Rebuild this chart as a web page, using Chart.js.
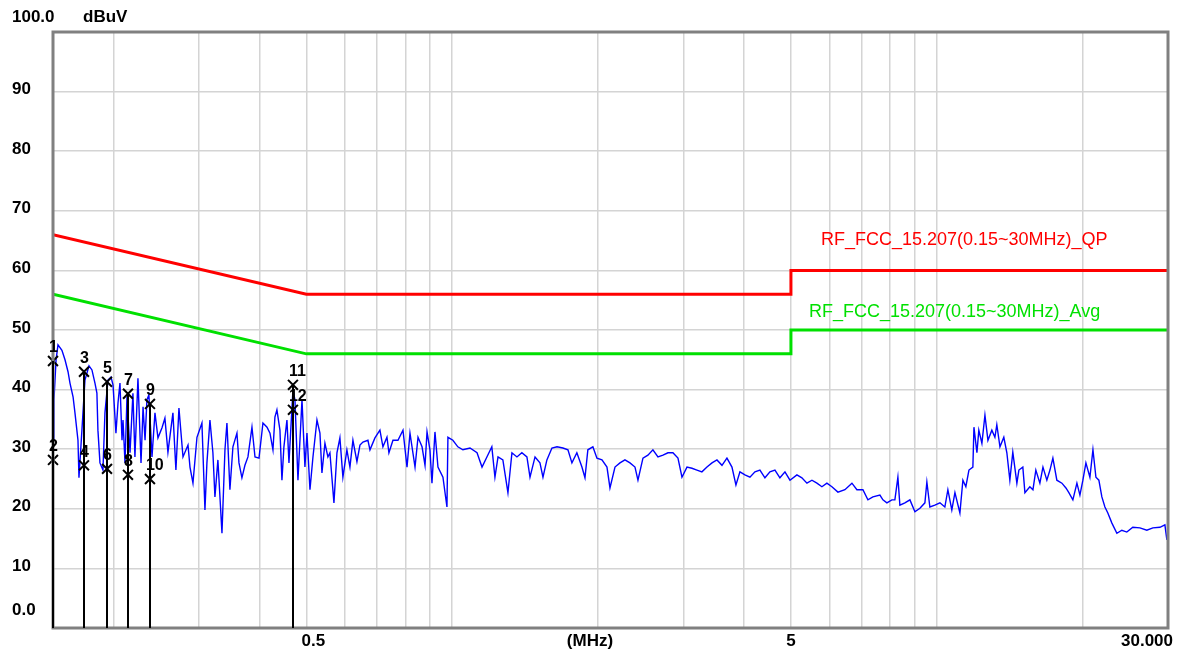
<!DOCTYPE html>
<html>
<head>
<meta charset="utf-8">
<script src="https://cdn.jsdelivr.net/npm/chart.js@4.4.0/dist/chart.umd.min.js"></script>
<style>
    html, body { margin: 0; padding: 0; background: #fff; }
    #wrap { width: 1181px; height: 652px; }
</style>
</head>
<body>
<div id="wrap"><canvas id="emiChart" width="1181" height="652"></canvas></div>
<script>
// measured trace (MHz / dBuV)
const traceFreq = [
    0.150, 0.1507, 0.1522, 0.1536, 0.1565, 0.1588, 0.1611, 0.1626, 0.1650, 0.1665,
    0.1689, 0.1697, 0.1721, 0.1746, 0.1780, 0.1805, 0.1831, 0.1848, 0.1857, 0.1875,
    0.1902, 0.1920, 0.1948, 0.1976, 0.1995, 0.2023, 0.2043, 0.2062, 0.2082, 0.2092,
    0.2112, 0.2132, 0.2163, 0.2193, 0.2214, 0.2246, 0.2279, 0.2301, 0.2323, 0.2344,
    0.2366, 0.2401, 0.2435, 0.2470, 0.2518, 0.2553, 0.2590, 0.2652, 0.2690, 0.2729,
    0.2782, 0.2849, 0.2876, 0.2917, 0.2973, 0.3044, 0.3088, 0.3117, 0.3162, 0.3207,
    0.3238, 0.3284, 0.3348, 0.3396, 0.3428, 0.3477, 0.3527, 0.3595, 0.3630, 0.3681,
    0.3734, 0.3788, 0.3861, 0.3917, 0.3992, 0.4068, 0.4147, 0.4206, 0.4266, 0.4306,
    0.4347, 0.4410, 0.4452, 0.4494, 0.4559, 0.4603, 0.4691, 0.4736, 0.4804, 0.4897,
    0.4966, 0.5014, 0.5086, 0.5159, 0.5258, 0.5333, 0.5384, 0.5461, 0.5539, 0.5592,
    0.5700, 0.5782, 0.5864, 0.5948, 0.6062, 0.6150, 0.6238, 0.6358, 0.6450, 0.6542,
    0.6699, 0.6764, 0.6926, 0.7092, 0.7194, 0.7333, 0.7402, 0.7545, 0.7727, 0.7913,
    0.8066, 0.8181, 0.8379, 0.8499, 0.8663, 0.8787, 0.8871, 0.8995, 0.9082, 0.9212,
    0.9344, 0.9568, 0.9752, 0.9797, 1.003, 1.027, 1.052, 1.088, 1.125, 1.152,
    1.179, 1.207, 1.225, 1.243, 1.272, 1.303, 1.328, 1.360, 1.392, 1.426,
    1.447, 1.482, 1.517, 1.539, 1.568, 1.606, 1.645, 1.692, 1.733, 1.766,
    1.808, 1.852, 1.879, 1.905, 1.951, 1.989, 2.037, 2.086, 2.116, 2.167,
    2.219, 2.272, 2.327, 2.383, 2.417, 2.475, 2.534, 2.595, 2.658, 2.722,
    2.787, 2.854, 2.923, 2.979, 3.051, 3.124, 3.199, 3.275, 3.355, 3.436,
    3.518, 3.603, 3.689, 3.778, 3.850, 3.924, 4.018, 4.115, 4.214, 4.315,
    4.419, 4.525, 4.634, 4.745, 4.860, 4.977, 5.144, 5.267, 5.395, 5.525,
    5.657, 5.793, 5.932, 6.075, 6.251, 6.462, 6.681, 6.841, 7.039, 7.208,
    7.381, 7.631, 7.741, 7.889, 8.078, 8.194, 8.312, 8.391, 8.593, 8.801,
    9.012, 9.229, 9.450, 9.539, 9.676, 9.908, 10.15, 10.39, 10.54, 10.74,
    10.90, 11.16, 11.32, 11.48, 11.65, 11.87, 11.93, 12.10, 12.21, 12.39,
    12.57, 12.75, 12.99, 13.18, 13.30, 13.50, 13.75, 13.95, 14.15, 14.35,
    14.63, 14.77, 15.05, 15.20, 15.56, 15.79, 16.01, 16.32, 16.56, 16.87,
    17.12, 17.36, 17.69, 18.12, 18.47, 18.73, 19.09, 19.46, 19.74, 20.02,
    20.31, 20.70, 21.00, 21.30, 21.60, 21.91, 22.23, 22.54, 22.98, 23.53,
    24.09, 24.67, 25.38, 26.25, 27.13, 27.92, 28.87, 29.56, 29.84
];
const traceLevel = [
    31.5, 38.3, 45.0, 47.5, 46.6, 45.0, 43.0, 41.1, 38.8, 36.1,
    31.5, 25.2, 33.2, 41.6, 44.0, 43.3, 41.1, 39.4, 33.2, 27.7,
    26.5, 36.1, 41.6, 42.1, 40.8, 32.7, 37.8, 41.1, 31.5, 34.9,
    27.7, 38.8, 29.4, 39.4, 28.7, 41.9, 27.7, 37.1, 31.5, 38.3,
    39.1, 28.7, 36.1, 31.9, 33.6, 35.2, 29.5, 36.1, 26.5, 36.9,
    28.7, 30.7, 27.0, 24.3, 32.0, 34.4, 19.8, 27.7, 34.9, 29.4,
    22.0, 28.2, 15.9, 29.9, 34.4, 23.2, 30.4, 32.7, 27.7, 25.2,
    27.3, 28.7, 33.7, 28.7, 28.5, 34.4, 33.7, 32.7, 29.9, 35.4,
    36.6, 33.2, 24.8, 30.4, 34.9, 27.7, 39.9, 38.3, 24.8, 38.3,
    27.0, 32.7, 23.2, 28.7, 34.9, 32.7, 26.0, 31.0, 28.7, 29.4,
    21.0, 29.4, 31.9, 25.3, 29.9, 27.0, 31.5, 27.9, 30.7, 31.2,
    31.5, 29.9, 31.9, 33.2, 30.4, 32.0, 29.4, 31.5, 31.5, 33.2,
    27.0, 32.7, 27.0, 32.0, 30.4, 27.3, 32.9, 29.9, 24.3, 32.9,
    27.0, 25.3, 20.3, 32.0, 31.5, 30.4, 29.9, 30.2, 29.4, 27.0,
    28.7, 30.4, 25.3, 28.7, 28.2, 22.7, 29.4, 28.7, 29.4, 28.7,
    25.3, 28.7, 27.7, 25.3, 28.2, 30.2, 30.4, 30.2, 29.9, 27.7,
    29.4, 27.0, 25.2, 29.9, 30.4, 28.5, 28.2, 27.0, 23.5, 27.0,
    27.7, 28.2, 27.7, 27.0, 24.8, 28.5, 29.0, 29.9, 28.7, 29.0,
    29.4, 29.4, 28.5, 25.3, 27.0, 26.8, 26.5, 26.2, 27.0, 27.7,
    28.2, 27.3, 28.5, 27.0, 24.0, 26.2, 25.7, 25.3, 26.2, 26.5,
    25.2, 26.2, 26.5, 25.2, 26.2, 24.8, 25.7, 25.2, 24.3, 24.8,
    24.3, 23.7, 24.3, 23.7, 22.8, 23.2, 24.3, 23.2, 23.2, 21.5,
    22.0, 22.3, 21.5, 21.0, 21.5, 21.5, 25.3, 20.6, 21.0, 21.5,
    19.5, 20.1, 21.0, 24.5, 20.3, 20.6, 21.0, 20.3, 23.2, 19.8,
    22.7, 19.3, 24.8, 23.7, 26.5, 27.0, 33.7, 29.4, 33.2, 31.0,
    35.7, 31.5, 33.2, 32.0, 34.1, 30.4, 32.0, 29.4, 24.8, 29.5,
    24.3, 26.5, 27.0, 22.7, 23.7, 23.2, 26.5, 24.3, 27.0, 24.8,
    26.5, 28.5, 24.8, 24.3, 23.5, 22.7, 21.5, 24.3, 22.3, 24.8,
    27.7, 25.3, 29.9, 25.3, 24.8, 22.0, 20.3, 19.3, 17.6, 15.9,
    16.4, 16.1, 16.9, 16.8, 16.4, 16.8, 16.9, 17.3, 14.8
];

// FCC 15.207 limit lines
const qpFreq = [0.15, 0.5, 5, 5, 30];
const qpLimit = [66, 56, 56, 60, 60];
const avgFreq = [0.15, 0.5, 5, 5, 30];
const avgLimit = [56, 46, 46, 50, 50];
const qpName = 'RF_FCC_15.207(0.15~30MHz)_QP';
const avgName = 'RF_FCC_15.207(0.15~30MHz)_Avg';

// markers
const markerNo = [1, 2, 3, 4, 5, 6, 7, 8, 9, 10, 11, 12];
const markerFreq = [0.150, 0.150, 0.1738, 0.1738, 0.1939, 0.1939, 0.2142, 0.2142, 0.2378, 0.2378, 0.4691, 0.4691];
const markerLevel = [44.8, 28.2, 43.0, 27.3, 41.3, 26.7, 39.3, 25.7, 37.6, 25.0, 40.8, 36.6];

// axes
const xGridTicks = [0.2, 0.3, 0.4, 0.5, 0.6, 0.7, 0.8, 0.9, 1, 2, 3, 4, 5, 6, 7, 8, 9, 10, 20, 30];
const xLabelTicks = [0.5, 5, 30];
const xLabelText = ['0.5', '5', '30.000'];
const yTicks = [0, 10, 20, 30, 40, 50, 60, 70, 80, 90, 100];
const yLabelText = ['0.0', '10', '20', '30', '40', '50', '60', '70', '80', '90', '100.0'];

const labelFont = 'bold 17px "Liberation Sans", Arial, sans-serif';

const overlay = {
    id: 'overlay',
    afterDraw(chart) {
        const ctx = chart.ctx;
        const a = chart.chartArea;
        const x = chart.scales.x, y = chart.scales.y;
        ctx.save();
        // frame
        ctx.strokeStyle = '#808080';
        ctx.lineWidth = 3;
        ctx.strokeRect(a.left, a.top, a.right - a.left, a.bottom - a.top);

        // marker stems, one per pair from the upper marker down
        ctx.strokeStyle = '#000';
        ctx.lineWidth = 2;
        for (let i = 0; i < markerFreq.length; i += 2) {
            const px = Math.round(x.getPixelForValue(markerFreq[i]));
            const top = y.getPixelForValue(Math.max(markerLevel[i], markerLevel[i + 1]));
            ctx.beginPath();
            ctx.moveTo(px, top);
            ctx.lineTo(px, a.bottom);
            ctx.stroke();
        }
        // marker numbers
        ctx.fillStyle = '#000';
        ctx.font = 'bold 16px "Liberation Sans", Arial, sans-serif';
        ctx.textAlign = 'left';
        ctx.textBaseline = 'bottom';
        markerNo.forEach((n, i) => {
            ctx.fillText(String(n), x.getPixelForValue(markerFreq[i]) - 4, y.getPixelForValue(markerLevel[i]) - 5);
        });

        // y labels
        ctx.font = labelFont;
        ctx.textBaseline = 'middle';
        yTicks.forEach((v, i) => {
            let py = y.getPixelForValue(v) - 2;
            if (v === 100) py = a.top - 15;
            if (v === 0) py = a.bottom - 18;
            ctx.fillText(yLabelText[i], 12, py);
        });
        ctx.fillText('dBuV', 83, a.top - 15);

        // x labels
        const lx = a.bottom + 13;
        xLabelTicks.forEach((v, i) => {
            const px = x.getPixelForValue(v);
            if (i === xLabelTicks.length - 1) {
                ctx.textAlign = 'right';
                ctx.fillText(xLabelText[i], px + 5, lx);
            } else {
                ctx.textAlign = 'center';
                ctx.fillText(xLabelText[i], px + (i === 0 ? 7 : 0), lx);
            }
        });
        ctx.textAlign = 'center';
        ctx.fillText('(MHz)', 590, lx);

        // limit names
        ctx.font = '18px "Liberation Sans", Arial, sans-serif';
        ctx.textAlign = 'left';
        ctx.fillStyle = '#ff0000';
        ctx.fillText(qpName, x.getPixelForValue(5) + 30, y.getPixelForValue(60) - 30);
        ctx.fillStyle = '#00e000';
        ctx.fillText(avgName, x.getPixelForValue(5) + 18, y.getPixelForValue(50) - 18);
        ctx.restore();
    }
};

const toPoints = (xs, ys) => xs.map((f, i) => ({ x: f, y: ys[i] }));

window.onload = function() {
    const canvas = document.getElementById('emiChart');
    new Chart(canvas.getContext('2d'), {
        type: 'line',
        data: {
            datasets: [{
                label: 'Markers',
                data: toPoints(markerFreq, markerLevel),
                showLine: false,
                pointStyle: 'crossRot',
                pointRadius: 7,
                borderColor: '#000',
                borderWidth: 2,
                clip: false,
                order: 0
            }, {
                label: qpName,
                data: toPoints(qpFreq, qpLimit),
                borderColor: '#ff0000',
                borderWidth: 3,
                pointRadius: 0,
                order: 1
            }, {
                label: avgName,
                data: toPoints(avgFreq, avgLimit),
                borderColor: '#00e000',
                borderWidth: 3,
                pointRadius: 0,
                order: 1
            }, {
                label: 'Trace',
                data: toPoints(traceFreq, traceLevel),
                borderColor: '#0000ff',
                borderWidth: 1.4,
                pointRadius: 0,
                tension: 0,
                order: 2
            }]
        },
        options: {
            responsive: false,
            animation: false,
            layout: { padding: { left: 53, right: 13, top: 32, bottom: 24 } },
            plugins: {
                legend: { display: false },
                tooltip: { enabled: false }
            },
            scales: {
                x: {
                    type: 'logarithmic',
                    min: 0.15,
                    max: 30,
                    afterBuildTicks: s => { s.ticks = xGridTicks.map(v => ({ value: v })); },
                    afterFit: s => { s.height = 0; },
                    ticks: { display: false },
                    grid: { color: '#d4d4d4', lineWidth: 1.5, drawTicks: false },
                    border: { display: false }
                },
                y: {
                    type: 'linear',
                    min: 0,
                    max: 100,
                    afterBuildTicks: s => { s.ticks = yTicks.map(v => ({ value: v })); },
                    afterFit: s => { s.width = 0; },
                    ticks: { display: false },
                    grid: { color: '#d4d4d4', lineWidth: 1.5, drawTicks: false },
                    border: { display: false }
                }
            }
        },
        plugins: [overlay]
    });
};
</script>
</body>
</html>
